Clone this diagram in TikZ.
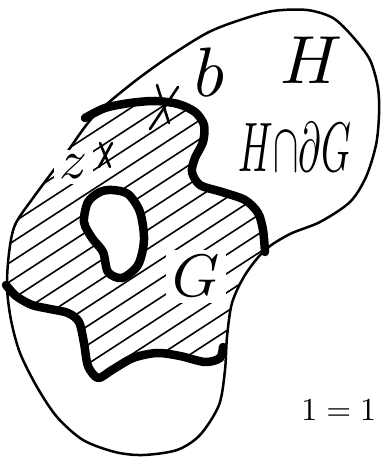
\documentclass[tikz,border=0pt]{standalone}
\usepackage{amsmath,amssymb}
\usetikzlibrary{positioning}

\tikzset{
  rim/.style={line width=2.5pt, line join=round},
  bdry/.style={line width=8.5pt, line cap=round, line join=round},
  hatch/.style={line width=1.6pt},
  xstroke/.style={line width=2.6pt, line cap=round},
  lbl/.style={inner sep=1pt},
}

\begin{document}
\begin{tikzpicture}[x=1pt, y=-1pt]
    \useasboundingbox (0,0) rectangle (380,457);

    % Outline of H
    \def\outerH{(93,117) (130,85) (167,58) (207,33) (240,20) (273,11) (307,10) (333,18) (353,37) (370,60) (378,88) (379,115) (376,145) (366,177) (350,202) (320,222) (290,234) (265,250) (245,275) (232,303) (227,337) (225,370) (219,405) (200,435) (177,450) (143,455) (115,452) (83,440) (57,417) (37,387) (20,353) (11,320) (7,287) (9,253) (15,225) (33,198) (65,155)}
    % Thick parts of the boundary of G
    \def\topG{(85,118) (105,108) (130,103) (155,101) (178,104) (195,112) (204,125) (203,142) (195,158) (192,172) (200,185) (222,192) (245,200) (258,213) (263,230) (265,252)}
    \def\botG{(223,347) (220,358) (205,362) (180,356) (157,353) (133,358) (112,370) (98,378) (88,366) (84,343) (79,322) (68,313) (50,309) (32,305) (16,296) (6,285)}
    % Hole
    \def\holeG{(112,190) (128,194) (140,212) (144,240) (138,265) (122,278) (108,272) (103,252) (92,238) (84,222) (88,202) (100,192)}

    % Hatching of G
    \begin{scope}[even odd rule]
        \clip plot[smooth cycle] coordinates {\outerH};
        \clip plot[smooth] coordinates {\topG} -- (300,240) -- (300,345)
            -- plot[smooth] coordinates {\botG} -- (-20,285) -- (-20,110) -- cycle;
        \clip (-10,-10) rectangle (400,470)
            plot[smooth cycle] coordinates {\holeG};
        \foreach \c in {60,79,...,620}
            \draw[hatch] (0,\c) -- (400,\c-260);
    \end{scope}

    % H and boundary of G
    \draw[rim] plot[smooth cycle] coordinates {\outerH};
    \draw[bdry] plot[smooth] coordinates {\topG};
    \draw[bdry] plot[smooth] coordinates {\botG};
    \draw[bdry] plot[smooth cycle] coordinates {\holeG};

    % Points
    \coordinate (bx) at (163,107);
    \draw[xstroke] (bx) ++(-6,-22) -- ++(12,38);
    \draw[xstroke] (bx) ++(15,-20) -- ++(-28,42);
    \coordinate (zx) at (105,155);
    \draw[xstroke] (zx) ++(-5,-12) -- ++(10,24);
    \draw[xstroke] (zx) ++(7,-12) -- ++(-13,24);

    % Labels
    \node[lbl, scale=6.8] (H) at (312,60) {$H$};
    \node[lbl, xscale=3.8, yscale=7] (HdG) at (295,147) {$H{\cap}\partial G$};
    \node[lbl, scale=7] (b) at (210,72) {$b$};
    \node[lbl, scale=5.5, fill=white] (z) at (73,167) {$z$};
    \node[lbl, scale=6, fill=white] (G) at (196,276) {$G$};
    \node[lbl, scale=3.2, anchor=east] (eq) at (380,410) {$1=1$};
\end{tikzpicture}
\end{document}
